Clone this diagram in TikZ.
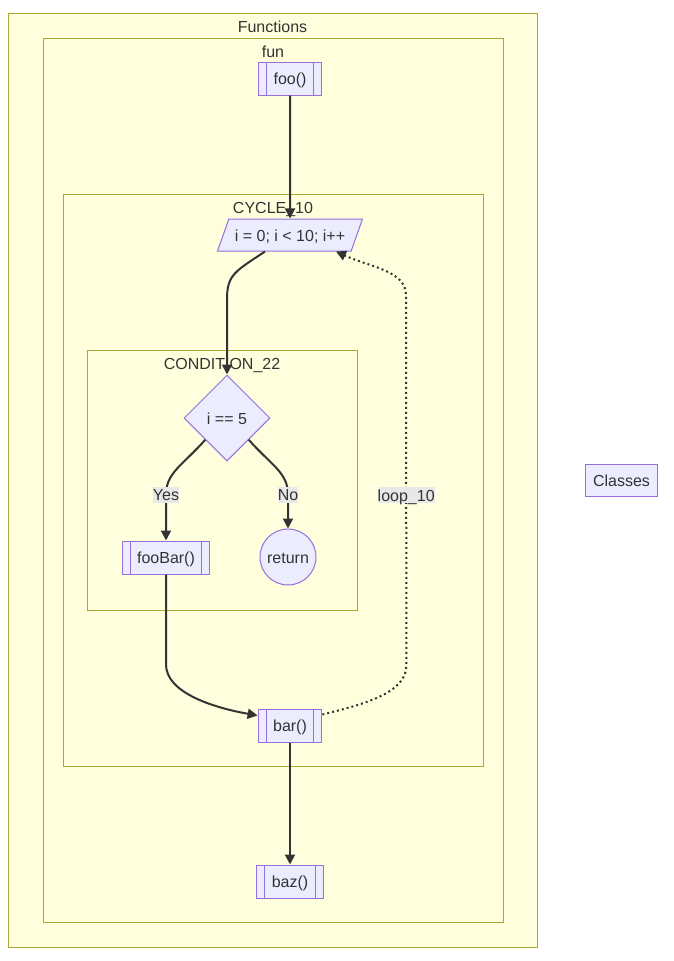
\documentclass[tikz,border=0pt]{standalone}
\usepackage{fontspec}
\setmainfont{Liberation Sans}
\usetikzlibrary{shapes.geometric, arrows.meta, positioning, calc}
\definecolor{mmdCluster}{HTML}{FFFFDE}
\definecolor{mmdClusterLine}{HTML}{AAAA33}
\definecolor{mmdNode}{HTML}{ECECFF}
\definecolor{mmdNodeLine}{HTML}{9370DB}
\definecolor{mmdEdge}{HTML}{333333}
\definecolor{mmdLabel}{HTML}{E8E8E8}

\begin{document}
\begin{tikzpicture}[
  x=1pt, y=-1pt,
  every node/.style={font=\fontsize{16}{19}\selectfont, text=mmdEdge},
  cluster/.style={draw=mmdClusterLine, fill=mmdCluster, line width=1pt, inner sep=0pt},
  ctitle/.style={inner sep=3pt, text height=12pt, text depth=3pt},
  base/.style={draw=mmdNodeLine, fill=mmdNode, line width=1pt, text height=14pt, text depth=2pt},
  sub/.style={base, rectangle, minimum height=33pt, inner xsep=15pt,
    path picture={\draw[mmdNodeLine, line width=1pt]
      ([xshift=8pt]path picture bounding box.north west) -- ([xshift=8pt]path picture bounding box.south west)
      ([xshift=-8pt]path picture bounding box.north east) -- ([xshift=-8pt]path picture bounding box.south east);}},
  io/.style={base, trapezium, trapezium left angle=63.4, trapezium right angle=116.6,
    trapezium stretches body, minimum width=145pt, minimum height=32pt, inner xsep=0pt},
  decision/.style={base, diamond, aspect=1, minimum width=86pt, minimum height=86pt, inner sep=0pt},
  term/.style={base, circle, minimum size=56pt, inner sep=0pt},
  plain/.style={base, rectangle, minimum height=32pt, inner xsep=7.5pt},
  arr/.style={draw=mmdEdge, line width=2pt, -{Triangle[length=10pt, width=10pt]}},
  dotarr/.style={arr, dash pattern=on 2pt off 3pt},
  lbl/.style={fill=mmdLabel, inner sep=0pt, text height=14pt, text depth=2pt}
]
  \useasboundingbox (0,0) rectangle (673,961);

  % Clusters
  \node[cluster, minimum width=529pt, minimum height=934pt] (functions) at (272.5,480) {};
  \node[ctitle, below=4.5pt of functions.north] (functionsTitle) {Functions};
  \node[cluster, minimum width=460pt, minimum height=884pt] (fun) at (273,480) {};
  \node[ctitle, below=4.5pt of fun.north] (funTitle) {fun};
  \node[cluster, minimum width=420pt, minimum height=572pt] (cycle) at (273,480) {};
  \node[ctitle, below=4.5pt of cycle.north] (cycleTitle) {CYCLE\_10};
  \node[cluster, minimum width=270pt, minimum height=260pt] (condition) at (222,480) {};
  \node[ctitle, below=4.5pt of condition.north] (conditionTitle) {CONDITION\_22};

  % Nodes
  \node[sub] (foo) at (290,78.5) {foo()};
  \node[io] (loopInit) at (290,235) {i = 0; i < 10; i++};
  \node[decision] (check) at (227,418) {i == 5};
  \node[sub] (fooBar) at (166,557.5) {fooBar()};
  \node[term] (ret) at (288,557) {return};
  \node[sub] (bar) at (290,725.5) {bar()};
  \node[sub] (baz) at (290,881.5) {baz()};
  \node[plain] (classes) at (621.5,480) {Classes};

  % Paths
  \draw[arr] (foo) -- (loopInit);
  \draw[arr] ([xshift=-25pt]loopInit.south) .. controls +(-30,20) and +(0,-25) .. ($(check.north)+(0,-75)$) -- (check.north);
  \draw[arr] (check.south west) .. controls +(-22,25) and +(0,-22) .. ($(fooBar.north)+(0,-46)$) node[lbl] {Yes} -- (fooBar.north);
  \draw[arr] (check.south east) .. controls +(22,25) and +(0,-22) .. ($(ret.north)+(0,-34)$) node[lbl] {No} -- (ret.north);
  \draw[arr] (fooBar.south) -- ($(fooBar.south)+(0,90)$) .. controls +(0,28) and +(-45,-8) .. ([yshift=10pt]bar.west);
  \draw[dotarr] ([yshift=11pt]bar.east) .. controls +(40,-10) and +(0,28) .. ($(bar.east)+(84,-60)$)
    -- node[lbl, pos=0.46] {loop\_10} ($(loopInit.south)+(116,44)$)
    .. controls +(0,-25) and +(35,16) .. ([xshift=46pt]loopInit.south);
  \draw[arr] (bar) -- (baz);
\end{tikzpicture}
\end{document}
